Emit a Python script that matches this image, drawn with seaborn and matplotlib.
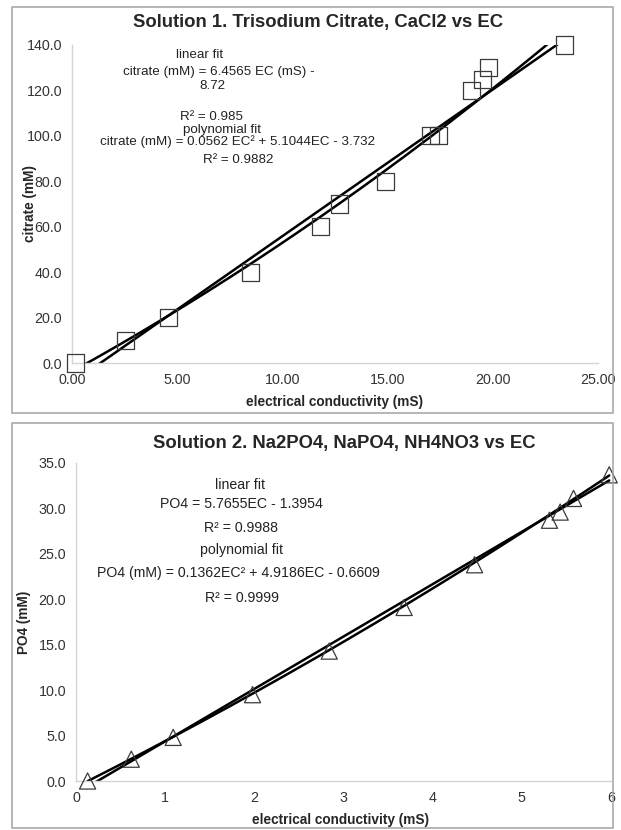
import numpy as np
import pandas as pd
import matplotlib
matplotlib.use("Agg")
import matplotlib.pyplot as plt
from matplotlib.patches import Rectangle
from matplotlib.ticker import FormatStrFormatter, MultipleLocator
import seaborn as sns

# Solution 1: trisodium citrate + CaCl2
ec_citrate = [0.15, 2.55, 4.6, 8.5, 11.8, 12.7, 14.9, 17.05, 17.4, 19.0, 19.5, 19.8, 23.4]
citrate_mm = [0, 10, 20, 40, 60, 70, 80, 100, 100, 120, 125, 130, 140]
citrate_linear = [6.4565, -8.72]            # slope, intercept
citrate_poly = [0.0562, 5.1044, -3.732]     # quadratic coefficients

# Solution 2: Na2PO4, NaPO4, NH4NO3
ec_po4 = [0.13, 0.62, 1.09, 1.98, 2.84, 3.68, 4.47, 5.31, 5.43, 5.58, 5.98]
po4_mm = [0.0, 2.4, 4.8, 9.5, 14.3, 19.1, 23.8, 28.7, 29.6, 31.1, 33.7]
po4_linear = [5.7655, -1.3954]
po4_poly = [0.1362, 4.9186, -0.6609]

W, H = 621, 830
sns.set_style("white")
plt.rcParams["font.family"] = ["Liberation Sans", "DejaVu Sans"]

fig = plt.figure(figsize=(W / 100, H / 100), dpi=100)
fig.patch.set_facecolor("white")


def px_box(left, top, right, bottom):
    return [left / W, 1 - bottom / H, (right - left) / W, (bottom - top) / H]


def ftext(x, y, s, **kw):
    fig.text(x / W, 1 - y / H, s, ha="center", va="center", **kw)


def style_axes(ax):
    for side in ("top", "right"):
        ax.spines[side].set_visible(False)
    for side in ("left", "bottom"):
        ax.spines[side].set_color("#d4d4d4")
        ax.spines[side].set_linewidth(1.0)
    ax.tick_params(length=0, labelsize=10.3, colors="#333333", pad=7)
    ax.set_xlabel("")
    ax.set_ylabel("")


def draw_fits(ax, x, lin, poly):
    xs = np.linspace(min(x), max(x), 200)
    fits = pd.DataFrame({
        "ec": np.concatenate([xs, xs]),
        "val": np.concatenate([np.polyval(lin, xs), np.polyval(poly, xs)]),
        "fit": ["linear"] * len(xs) + ["polynomial"] * len(xs),
    })
    sns.lineplot(data=fits, x="ec", y="val", units="fit", estimator=None,
                 color="black", linewidth=1.8, ax=ax, legend=False)


# panel frames
for (l, t, r, b) in [(12, 7, 613, 413), (12, 423, 613, 828)]:
    fig.patches.append(Rectangle((l / W, 1 - b / H), (r - l) / W, (b - t) / H,
                                 transform=fig.transFigure, fill=False,
                                 edgecolor="#a3a3a3", linewidth=1.1))

# ---- Solution 1 ----
ax1 = fig.add_axes(px_box(72, 45, 598, 363))
draw_fits(ax1, ec_citrate, citrate_linear, citrate_poly)
sns.scatterplot(x=ec_citrate, y=citrate_mm, marker="s", s=150,
                facecolor="none", edgecolor="#3a3a3a", linewidth=0.9,
                ax=ax1, clip_on=False, zorder=5)
ax1.set_xlim(0, 25)
ax1.set_ylim(0, 140)
ax1.xaxis.set_major_locator(MultipleLocator(5))
ax1.yaxis.set_major_locator(MultipleLocator(20))
ax1.xaxis.set_major_formatter(FormatStrFormatter("%.2f"))
ax1.yaxis.set_major_formatter(FormatStrFormatter("%.1f"))
style_axes(ax1)

ftext(318, 22, "Solution 1. Trisodium Citrate, CaCl2 vs EC",
      fontsize=13.3, fontweight="bold")
ftext(335, 402, "electrical conductivity (mS)", fontsize=9.8, fontweight="bold")
ftext(30, 204, "citrate (mM)", fontsize=9.8, fontweight="bold", rotation=90)

ann = dict(fontsize=9.6, color="#222222")
ftext(200, 55, "linear fit", **ann)
ftext(219, 72, "citrate (mM) = 6.4565 EC (mS) -", **ann)
ftext(212, 86, "8.72", **ann)
ftext(212, 117, "R² = 0.985", **ann)
ftext(222, 130, "polynomial fit", **ann)
ftext(238, 142, "citrate (mM) = 0.0562 EC² + 5.1044EC - 3.732", **ann)
ftext(238, 160, "R² = 0.9882", **ann)

# ---- Solution 2 ----
ax2 = fig.add_axes(px_box(76, 463, 611, 781))
draw_fits(ax2, ec_po4, po4_linear, po4_poly)
sns.scatterplot(x=ec_po4, y=po4_mm, marker="^", s=135,
                facecolor="none", edgecolor="#3a3a3a", linewidth=0.9,
                ax=ax2, clip_on=False, zorder=5)
ax2.set_xlim(0, 6)
ax2.set_ylim(0, 35)
ax2.xaxis.set_major_locator(MultipleLocator(1))
ax2.yaxis.set_major_locator(MultipleLocator(5))
ax2.xaxis.set_major_formatter(FormatStrFormatter("%d"))
ax2.yaxis.set_major_formatter(FormatStrFormatter("%.1f"))
style_axes(ax2)

ftext(344, 443, "Solution 2. Na2PO4, NaPO4, NH4NO3 vs EC",
      fontsize=13.3, fontweight="bold")
ftext(340, 820, "electrical conductivity (mS)", fontsize=9.8, fontweight="bold")
ftext(24, 622, "PO4 (mM)", fontsize=9.8, fontweight="bold", rotation=90)

ann2 = dict(fontsize=10.2, color="#222222")
ftext(240, 485, "linear fit", **ann2)
ftext(241, 504, "PO4 = 5.7655EC - 1.3954", **ann2)
ftext(241, 528, "R² = 0.9988", **ann2)
ftext(241, 550, "polynomial fit", **ann2)
ftext(238, 573, "PO4 (mM) = 0.1362EC² + 4.9186EC - 0.6609", **ann2)
ftext(242, 598, "R² = 0.9999", **ann2)

fig.savefig("out.png", dpi=100, facecolor="white")
